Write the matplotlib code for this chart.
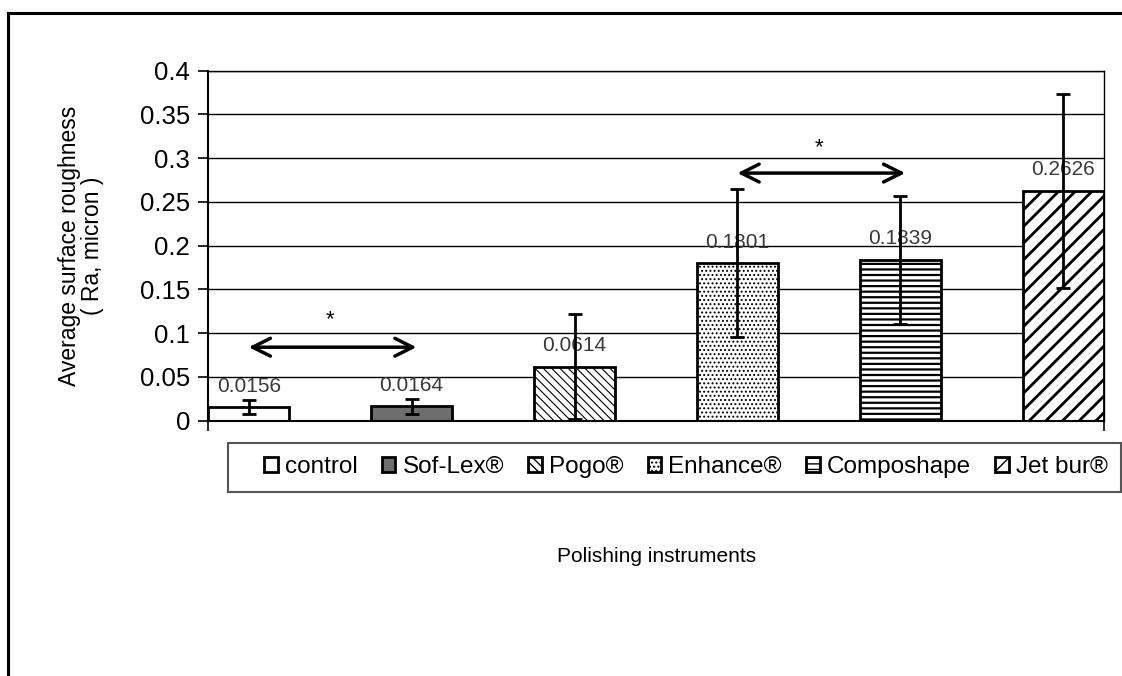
import numpy as np
import matplotlib
matplotlib.use("Agg")
import matplotlib.pyplot as plt
from matplotlib.patches import Rectangle
from matplotlib.lines import Line2D

plt.rcParams['font.family'] = ['Liberation Sans', 'DejaVu Sans']

# data
instruments = ['control', 'Sof-Lex®', 'Pogo®', 'Enhance®', 'Composhape', 'Jet bur®']
means = [0.0156, 0.0164, 0.0614, 0.1801, 0.1839, 0.2626]
sds = [0.0085, 0.0085, 0.060, 0.0845, 0.073, 0.111]
value_labels = ['0.0156', '0.0164', '0.0614', '0.1801', '0.1839', '0.2626']
yticks = [0, 0.05, 0.1, 0.15, 0.2, 0.25, 0.3, 0.35, 0.4]
ytick_labels = ['0', '0.05', '0.1', '0.15', '0.2', '0.25', '0.3', '0.35', '0.4']
# significance pairs (start index, end index)
sig_pairs = [(0, 1), (3, 4)]
sig_y = [0.084, 0.283]
star_y = [0.115, 0.312]

# styles
faces = ['white', '#6e6e6e', 'white', 'white', 'white', 'white']
hatches = [None, None, '\\\\\\\\', '....', '---', '//']
hatch_lw = [1.0, 1.0, 0.8, 0.9, 1.6, 2.0]

fig = plt.figure(figsize=(11.22, 6.76), dpi=100)
ax = fig.add_axes([208 / 1122, 1 - 420.7 / 676, (1104 - 208) / 1122, 350 / 676])

x = np.arange(len(instruments))
bars = []
for i in range(len(instruments)):
    b = ax.bar(x[i], means[i], width=0.5, color=faces[i], edgecolor='black',
               linewidth=2, hatch=hatches[i], zorder=2)
    for p in b:
        if hasattr(p, 'set_hatch_linewidth'):
            p.set_hatch_linewidth(hatch_lw[i])
    bars.append(b[0])

ax.errorbar(x, means, yerr=sds, fmt='none', ecolor='black', elinewidth=2,
            capsize=5, capthick=2, zorder=5)

for i in range(len(instruments)):
    ax.text(x[i], means[i] + 0.024, value_labels[i], ha='center', va='center',
            fontsize=15, color='#3a3a3a', zorder=4)

for (a, b), yy, sy in zip(sig_pairs, sig_y, star_y):
    ax.annotate('', xy=(x[b] + 0.03, yy), xytext=(x[a], yy),
                arrowprops=dict(arrowstyle='<->', color='black', lw=2.5,
                                mutation_scale=32, shrinkA=0, shrinkB=0), zorder=6)
    ax.text((x[a] + x[b]) / 2, sy, '*', ha='center', va='center', fontsize=16)

ax.set_xlim(-0.25, 5.25)
ax.set_ylim(0, 0.4)
ax.set_yticks(yticks)
ax.set_yticklabels(ytick_labels)
ax.set_xticks([-0.25, 5.25])
ax.set_xticklabels(['', ''])
ax.tick_params(axis='y', direction='out', length=7, width=1.2, labelsize=18.5, pad=6)
ax.tick_params(axis='x', direction='out', length=7, width=1.2)
ax.yaxis.grid(True, color='black', linewidth=1)
ax.set_axisbelow(True)
for s in ax.spines.values():
    s.set_color('black')
    s.set_linewidth(1)
ax.spines['left'].set_linewidth(1.5)
ax.spines['bottom'].set_linewidth(1.5)

ax.set_ylabel('Average surface roughness\n( Ra, micron )', fontsize=16.5, labelpad=26,
              linespacing=1.0)
fig.text(657 / 1122, 1 - 557 / 676, 'Polishing instruments', ha='center', va='center',
         fontsize=15)

# legend box
fig.add_artist(Rectangle((228 / 1122, 1 - 492 / 676), (1121 - 228) / 1122, 49 / 676,
                         transform=fig.transFigure, fill=False, edgecolor='#555555',
                         linewidth=1.5))
fig.legend(bars, instruments, loc='center left', bbox_to_anchor=(252 / 1122, 1 - 467 / 676),
           ncol=6, frameon=False, fontsize=17.5, handlelength=0.55, handleheight=0.55,
           handletextpad=0.3, columnspacing=1.0, borderpad=0)

# outer border
fig.add_artist(Line2D([8 / 1122, 1], [1 - 13 / 676, 1 - 13 / 676], transform=fig.transFigure,
                      color='black', linewidth=2.2))
fig.add_artist(Line2D([8 / 1122, 8 / 1122], [0, 1 - 13 / 676], transform=fig.transFigure,
                      color='black', linewidth=2.2))

fig.savefig('out.png', dpi=100)
